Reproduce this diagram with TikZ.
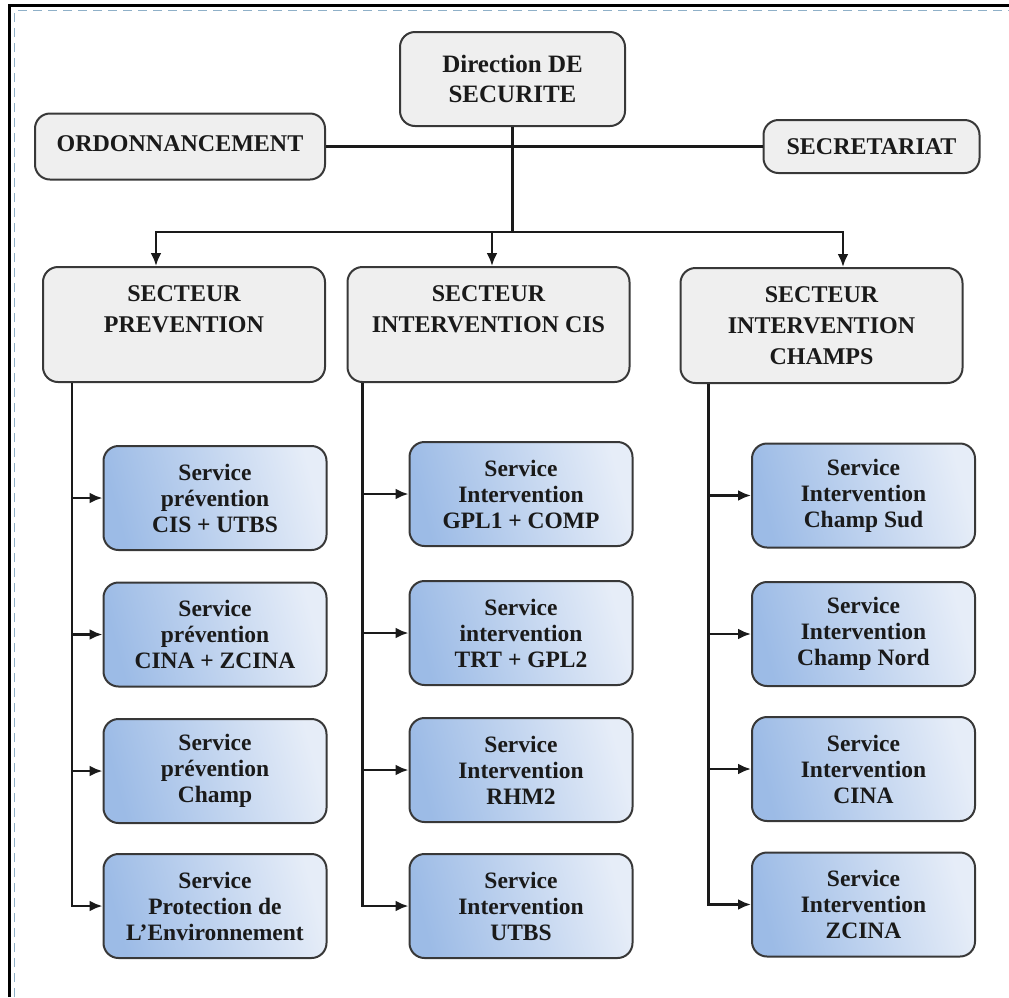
\documentclass[tikz,border=0pt]{standalone}
\usepackage{fontspec}
\setmainfont{Liberation Serif}
\usetikzlibrary{arrows.meta,calc}

\definecolor{boxgray}{HTML}{EFEFEF}
\definecolor{edge}{HTML}{383838}
\definecolor{ink}{HTML}{1A1A1A}
\definecolor{svcdark}{HTML}{9CBBE6}
\definecolor{svclight}{HTML}{E6EDF8}
\definecolor{frameblue}{HTML}{8FB0C8}

\tikzset{
  graybox/.style={draw=edge, line width=2pt, fill=boxgray, rounded corners=15pt,
    inner sep=0pt, text=ink, align=center},
  svcbox/.style={draw=edge, line width=2pt, rounded corners=15pt,
    left color=svcdark, right color=svclight, shading angle=105,
    minimum width=223pt, minimum height=104pt, inner sep=0pt, text=ink, align=center,
    font=\fontsize{23.5}{26}\selectfont\bfseries},
  sectorbox/.style={graybox, minimum width=282pt, minimum height=115pt},
  sectortext/.style={anchor=north, align=center, text=ink, inner sep=0pt,
    font=\fontsize{24}{31}\selectfont\bfseries},
  conn/.style={draw=ink, line width=2.6pt},
  arr/.style={conn, -{Latex[length=13pt,width=11pt]}},
}

\begin{document}
\begin{tikzpicture}[x=1pt, y=-1pt]
\useasboundingbox (0,0) rectangle (1009,997);

% page frame
\draw[black, line width=3pt] (9,997) -- (9,5) -- (1009,5);
\draw[frameblue, line width=1.6pt, dash pattern=on 9pt off 6pt] (14.5,997) -- (14.5,10.5) -- (1009,10.5);

% top level
\node[graybox, minimum width=225pt, minimum height=94pt,
      font=\fontsize{25}{30}\selectfont\bfseries] (dir) at (512.5,79) {Direction DE\\SECURITE};
\node[graybox, minimum width=290pt, minimum height=66pt,
      font=\fontsize{24}{30}\selectfont\bfseries] (ord) at (180,146.5) {\raisebox{6pt}{ORDONNANCEMENT}};
\node[graybox, minimum width=216pt, minimum height=53pt,
      font=\fontsize{24}{30}\selectfont\bfseries] (secr) at (871.5,146.5) {SECRETARIAT};

% sectors
\node[sectorbox] (sp) at (184,324.5) {};
\node[sectorbox] (sc) at (488.5,324.5) {};
\node[sectorbox] (sh) at (821.5,325.5) {};
\node[sectortext] (spt) at ([yshift=-19pt]sp.north) {SECTEUR\\PREVENTION};
\node[sectortext] (sct) at ([yshift=-19pt]sc.north) {SECTEUR\\INTERVENTION CIS};
\node[sectortext] (sht) at ([yshift=-19pt]sh.north) {SECTEUR\\INTERVENTION\\CHAMPS};

% services, prevention sector
\node[svcbox] (p1) at (215,498) {Service\\prévention\\CIS + UTBS};
\node[svcbox] (p2) at (215,634.5) {Service\\prévention\\CINA + ZCINA};
\node[svcbox] (p3) at (215,771) {Service\\prévention\\Champ};
\node[svcbox] (p4) at (215,906) {Service\\Protection de\\L’Environnement};

% services, intervention CIS sector
\node[svcbox] (c1) at (521,494) {Service\\Intervention\\GPL1 + COMP};
\node[svcbox] (c2) at (521,633) {Service\\intervention\\TRT + GPL2};
\node[svcbox] (c3) at (521,770) {Service\\Intervention\\RHM2};
\node[svcbox] (c4) at (521,906) {Service\\Intervention\\UTBS};

% services, intervention champs sector
\node[svcbox] (h1) at (863.5,495.5) {Service\\Intervention\\Champ Sud};
\node[svcbox] (h2) at (863.5,634) {Service\\Intervention\\Champ Nord};
\node[svcbox] (h3) at (863.5,769) {Service\\Intervention\\CINA};
\node[svcbox] (h4) at (863.5,904.5) {Service\\Intervention\\ZCINA};

% links at the top
\coordinate (hub) at (512.5,232);
\draw[conn] (ord.east) -- (secr.west);
\draw[conn] (dir.south) -- (hub);
\draw[arr] (hub) -| ([xshift=-28pt]sp.north);
\draw[arr] (hub) -| ([xshift=3.5pt]sc.north);
\draw[arr] (hub) -| ([xshift=21.5pt]sh.north);

% trunks down each sector
\coordinate (tp) at ([xshift=30pt]sp.south west);
\coordinate (tc) at ([xshift=16pt]sc.south west);
\coordinate (th) at ([xshift=29pt]sh.south west);

\draw[arr] (tp) |- (p4.west);
\draw[arr] (tc) |- (c4.west);
\draw[arr] (th) |- (h4.west);

\foreach \s in {p1,p2,p3} \draw[arr] (\s.west -| tp) -- (\s.west);
\foreach \s in {c1,c2,c3} \draw[arr] (\s.west -| tc) -- (\s.west);
\foreach \s in {h1,h2,h3} \draw[arr] (\s.west -| th) -- (\s.west);
\end{tikzpicture}
\end{document}
